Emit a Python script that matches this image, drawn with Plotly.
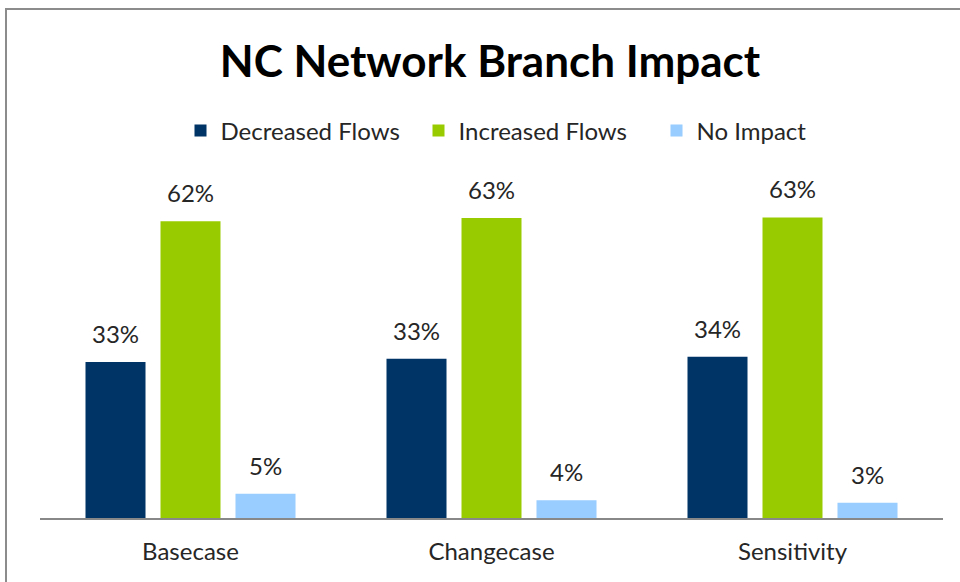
import plotly.graph_objects as go

categories = ["Basecase", "Changecase", "Sensitivity"]
series_names = ["Decreased Flows", "Increased Flows", "No Impact"]
decreased = [32.7, 33.4, 33.8]
increased = [62.2, 62.9, 63.0]
no_impact = [5.1, 3.7, 3.2]
colors = ["#003366", "#99CC00", "#99CCFF"]

FONT = "Lato"
W, H = 960, 582
SLOT = 75  # pixel width of one bar slot in a group

fig = go.Figure()
annotations = []
for i, (name, vals, col) in enumerate(zip(series_names, [decreased, increased, no_impact], colors)):
    fig.add_trace(go.Bar(
        x=categories, y=vals, name=name, marker_color=col,
        marker_line_width=0, hoverinfo="skip",
    ))
    for c, v in zip(categories, vals):
        annotations.append(dict(
            x=c, y=v, xref="x", yref="y", text=f"{v:.0f}%", showarrow=False,
            xanchor="center", yanchor="bottom", xshift=(i - 1) * SLOT, yshift=12,
            font=dict(family=FONT, size=24, color="#262626"),
        ))

fig.update_layout(
    width=W, height=H,
    barmode="group", bargap=0.2525, bargroupgap=0.2,
    paper_bgcolor="white", plot_bgcolor="white",
    margin=dict(l=40, r=17, t=184, b=64, autoexpand=False),
    title=dict(text="<b>NC Network Branch Impact</b>", x=490 / W, xanchor="center",
               y=1 - 62 / H, yanchor="middle",
               font=dict(family=FONT, size=44, color="black")),
    legend=dict(orientation="h", x=(537.5 - 40) / 903, xanchor="center", y=(518 - 131) / 334,
                yanchor="middle", entrywidth=193, entrywidthmode="pixels",
                font=dict(family=FONT, size=24, color="#262626"),
                traceorder="normal"),
    xaxis=dict(showline=True, linecolor="#888888", linewidth=1.5, ticks="",
               tickfont=dict(family=FONT, size=24, color="#262626"),
               ticklabelstandoff=11),
    yaxis=dict(range=[0, 70], visible=False, showgrid=False),
    annotations=annotations,
    shapes=[dict(type="rect", xref="paper", yref="paper",
                 x0=-34 / 903, x1=1.1, y0=-0.3, y1=(518 - 9) / 334,
                 line=dict(color="#8C8C8C", width=2), fillcolor="rgba(0,0,0,0)")],
)
fig.write_html("out.html", config={"displayModeBar": False},
               post_script="document.body.style.margin='0';")
